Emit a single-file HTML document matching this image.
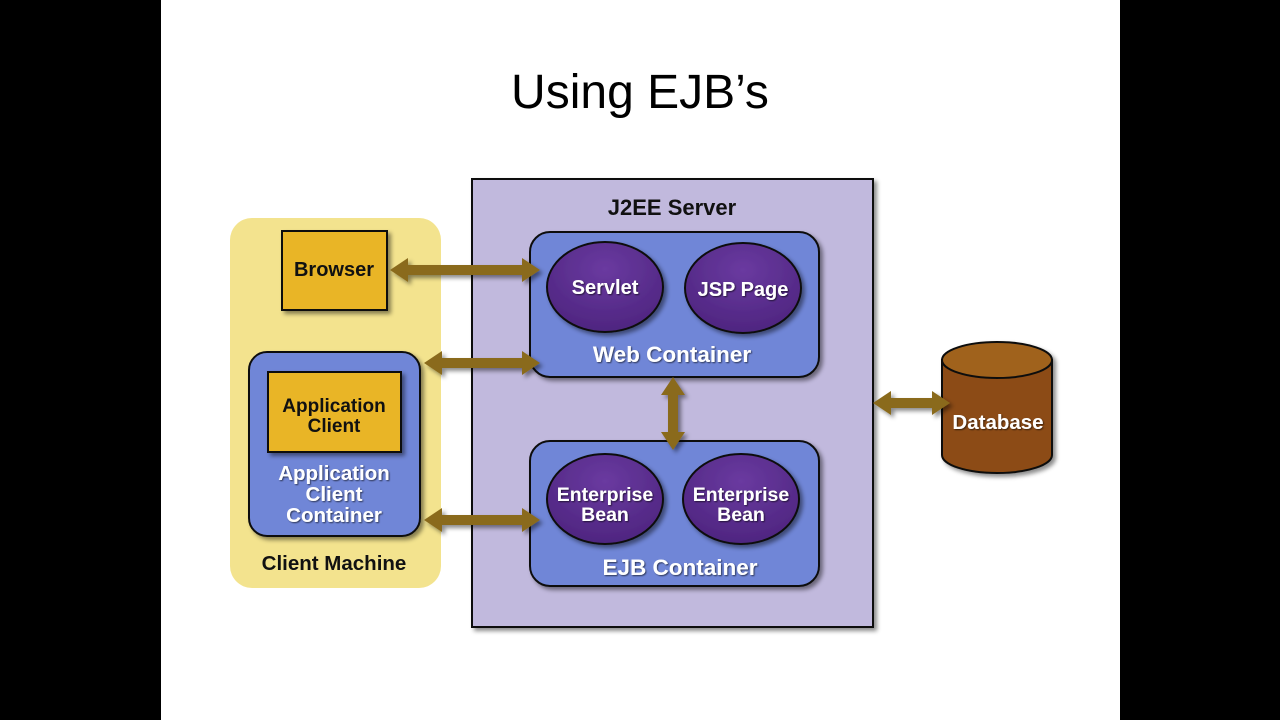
<!DOCTYPE html>
<html><head><meta charset="utf-8"><style>
html,body{margin:0;padding:0;background:#000;}
svg{display:block;}
text{font-family:"Liberation Sans",Arial,sans-serif;font-weight:bold;}
</style></head><body>
<svg width="1280" height="720" viewBox="0 0 1280 720" xmlns="http://www.w3.org/2000/svg">
<defs>
<filter id="sh" x="-10%" y="-10%" width="130%" height="130%"><feDropShadow dx="3" dy="3" stdDeviation="2" flood-color="#000" flood-opacity="0.45"/></filter>
<filter id="ts" x="-10%" y="-10%" width="130%" height="130%"><feDropShadow dx="1" dy="1" stdDeviation="0.8" flood-color="#000" flood-opacity="0.6"/></filter>
<radialGradient id="el" cx="50%" cy="30%" r="70%"><stop offset="0" stop-color="#6a3aa0"/><stop offset="1" stop-color="#4e2580"/></radialGradient>
</defs>
<rect x="0" y="0" width="1280" height="720" fill="#000"/>
<rect x="161" y="0" width="959" height="720" fill="#fff"/>
<text x="640" y="108" text-anchor="middle" font-size="48" style="font-weight:normal" fill="#000">Using EJB’s</text>

<!-- Client machine -->
<rect x="230" y="218" width="211" height="370" rx="22" fill="#f3e38e"/>
<rect x="282" y="231" width="105" height="79" fill="#e9b526" stroke="#111" stroke-width="2" filter="url(#sh)"/>
<text x="334" y="276" text-anchor="middle" font-size="20" fill="#111">Browser</text>
<rect x="249" y="352" width="171" height="184" rx="18" fill="#6f86d7" stroke="#111" stroke-width="2" filter="url(#sh)"/>
<rect x="268" y="372" width="133" height="80" fill="#e9b526" stroke="#111" stroke-width="2" filter="url(#sh)"/>
<text x="334" y="412" text-anchor="middle" font-size="19" fill="#111">Application</text>
<text x="334" y="432" text-anchor="middle" font-size="19" fill="#111">Client</text>
<g fill="#fff" font-size="20.5" text-anchor="middle" filter="url(#ts)">
<text x="334" y="480">Application</text>
<text x="334" y="501">Client</text>
<text x="334" y="522">Container</text>
</g>
<text x="334" y="570" text-anchor="middle" font-size="20.5" fill="#111">Client Machine</text>

<!-- J2EE server -->
<rect x="472" y="179" width="401" height="448" fill="#c1b9dd" stroke="#111" stroke-width="2" filter="url(#sh)"/>
<text x="672" y="215" text-anchor="middle" font-size="22" fill="#111">J2EE Server</text>

<rect x="530" y="232" width="289" height="145" rx="20" fill="#6f86d7" stroke="#111" stroke-width="2" filter="url(#sh)"/>
<ellipse cx="605" cy="287" rx="58" ry="45" fill="url(#el)" stroke="#111" stroke-width="2" filter="url(#sh)"/>
<ellipse cx="743" cy="288" rx="58" ry="45" fill="url(#el)" stroke="#111" stroke-width="2" filter="url(#sh)"/>
<g fill="#fff" text-anchor="middle" filter="url(#ts)">
<text x="605" y="294" font-size="20">Servlet</text>
<text x="743" y="296" font-size="20">JSP Page</text>
<text x="672" y="362" font-size="22.5">Web Container</text>
</g>

<rect x="530" y="441" width="289" height="145" rx="20" fill="#6f86d7" stroke="#111" stroke-width="2" filter="url(#sh)"/>
<ellipse cx="605" cy="499" rx="58" ry="45" fill="url(#el)" stroke="#111" stroke-width="2" filter="url(#sh)"/>
<ellipse cx="741" cy="499" rx="58" ry="45" fill="url(#el)" stroke="#111" stroke-width="2" filter="url(#sh)"/>
<g fill="#fff" text-anchor="middle" filter="url(#ts)">
<text x="605" y="501" font-size="19.5">Enterprise</text>
<text x="605" y="521" font-size="19.5">Bean</text>
<text x="741" y="501" font-size="19.5">Enterprise</text>
<text x="741" y="521" font-size="19.5">Bean</text>
<text x="680" y="575" font-size="22.5">EJB Container</text>
</g>

<!-- Database -->
<g filter="url(#sh)">
<path d="M942 360 L942 455 A55 18 0 0 0 1052 455 L1052 360 Z" fill="#8c4b12" stroke="#111" stroke-width="2"/>
<ellipse cx="997" cy="360" rx="55" ry="18" fill="#a0621f" stroke="#111" stroke-width="2"/>
</g>
<text x="998" y="429" text-anchor="middle" font-size="20.5" fill="#fff" filter="url(#ts)">Database</text>

<!-- Arrows -->
<g fill="#8a6a1c" filter="url(#sh)">
<polygon points="390,270 408,258 408,265 522,265 522,258 540,270 522,282 522,275 408,275 408,282"/>
<polygon points="424,363 442,351 442,358 522,358 522,351 540,363 522,375 522,368 442,368 442,375"/>
<polygon points="424,520 442,508 442,515 522,515 522,508 540,520 522,532 522,525 442,525 442,532"/>
<polygon points="873,403 891,391 891,398 932,398 932,391 950,403 932,415 932,408 891,408 891,415"/>
<polygon points="673,377 685,395 678,395 678,432 685,432 673,450 661,432 668,432 668,395 661,395"/>
</g>
</svg>
</body></html>
